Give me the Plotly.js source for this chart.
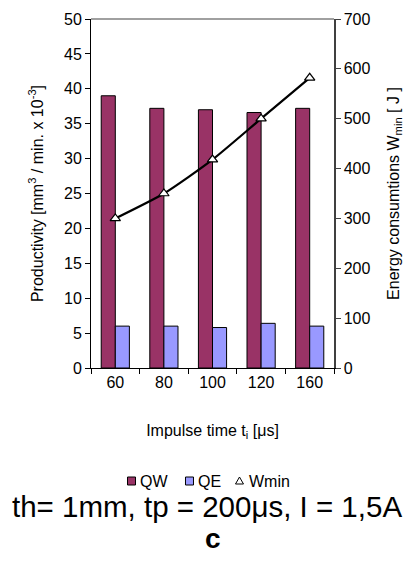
<!DOCTYPE html>
<html>
<head>
<meta charset="utf-8">
<script src="https://cdn.plot.ly/plotly-3.0.1.min.js"></script>
<style>html,body{margin:0;padding:0;background:#fff;}#chart{width:414px;height:563px;}</style>
</head>
<body>
<div id="chart"></div>
<script>
var categories = ["60", "80", "100", "120", "160"];
var qwValues = [39.0, 37.2, 37.0, 36.6, 37.2];
var qeValues = [6.0, 6.0, 5.8, 6.4, 6.0];
var wminValues = [300, 350, 418, 500, 582];
var seriesNames = ["QW", "QE", "Wmin"];
var seriesColors = ["#993366", "#9999FF", "#FFFFFF"];

var font = "Arial, 'Liberation Sans', sans-serif";

var traces = [
  {type: "bar", name: seriesNames[0], x: categories, y: qwValues,
   marker: {color: seriesColors[0], line: {color: "#000000", width: 1}}},
  {type: "bar", name: seriesNames[1], x: categories, y: qeValues,
   marker: {color: seriesColors[1], line: {color: "#000000", width: 1}}},
  {type: "scatter", mode: "lines", name: seriesNames[2] + " line", x: categories, y: wminValues, yaxis: "y2",
   line: {color: "#000000", width: 2.2, shape: "spline", smoothing: 0.6}},
  {type: "scatter", mode: "markers", name: seriesNames[2], x: categories, y: wminValues, yaxis: "y2",
   marker: {symbol: "triangle-up", size: 9, color: seriesColors[2], line: {color: "#000000", width: 1.2}}}
];

// custom compact legend (symbols as shapes, names as text)
var legY = -0.3238;
var legSym = [0.1667, 0.4053, 0.6111];
var legTxt = [0.1934, 0.4321, 0.642];
var shapes = [
  {type: "line", xref: "paper", yref: "paper", x0: 0, x1: 1, y0: 1, y1: 1,
   line: {color: "#808080", width: 1.5}}
];
var annotations = [];
for (var i = 0; i < 3; i++) {
  if (i < 2) {
    shapes.push({type: "rect", xref: "paper", yref: "paper", xsizemode: "pixel", ysizemode: "pixel",
      xanchor: legSym[i], yanchor: legY, x0: -4, x1: 4, y0: -4, y1: 4,
      fillcolor: seriesColors[i], line: {color: "#000000", width: 1}});
  } else {
    shapes.push({type: "path", xref: "paper", yref: "paper", xsizemode: "pixel", ysizemode: "pixel",
      xanchor: legSym[i], yanchor: legY, path: "M-4,-3 L4,-3 L0,4 Z",
      fillcolor: seriesColors[i], line: {color: "#000000", width: 1}});
  }
  annotations.push({xref: "paper", yref: "paper", x: legTxt[i], y: legY, xanchor: "left", yanchor: "middle",
    showarrow: false, text: seriesNames[i], font: {size: 16}});
}
annotations.push({xref: "paper", yref: "paper", x: 0.478, y: -0.398, xanchor: "center", yanchor: "middle",
  showarrow: false, text: "th= 1mm, tp = 200μs, I = 1,5A", font: {size: 29.5}});
annotations.push({xref: "paper", yref: "paper", x: 0.5, y: -0.488, xanchor: "center", yanchor: "middle",
  showarrow: false, text: "<b>c</b>", font: {size: 28}});

var layout = {
  width: 414, height: 563,
  margin: {l: 91, r: 80, t: 19, b: 195},
  paper_bgcolor: "#FFFFFF", plot_bgcolor: "#FFFFFF",
  font: {family: font, size: 16, color: "#000000"},
  barmode: "group", bargap: 0.42, bargroupgap: 0,
  showlegend: false,
  xaxis: {type: "category", range: [-0.5, 4.5], tickson: "boundaries",
          ticks: "outside", ticklen: 5, tickcolor: "#000", showline: true, linecolor: "#000", linewidth: 1,
          showgrid: false, zeroline: false, tickfont: {size: 16},
          title: {text: "Impulse time t<sub>i</sub> [μs]", font: {size: 16}, standoff: 34}},
  yaxis: {range: [0, 50], dtick: 5, ticks: "outside", ticklen: 5, tickcolor: "#000",
          showline: true, linecolor: "#000", linewidth: 1, showgrid: false, zeroline: false,
          tickfont: {size: 16},
          title: {text: "Productivity [mm<sup>3</sup> / min. x 10<sup>-3</sup>]", font: {size: 16}, standoff: 16}},
  yaxis2: {overlaying: "y", side: "right", range: [0, 700], dtick: 100, ticks: "outside", ticklen: 5,
           tickcolor: "#404040", showline: true, linecolor: "#404040", linewidth: 1.5, showgrid: false,
           zeroline: false, tickfont: {size: 16},
           title: {text: "Energy consumtions W<sub>min</sub> [ J ]", font: {size: 16}, standoff: 18}},
  shapes: shapes,
  annotations: annotations
};

Plotly.newPlot("chart", traces, layout, {displayModeBar: false, staticPlot: true});
</script>
</body>
</html>
